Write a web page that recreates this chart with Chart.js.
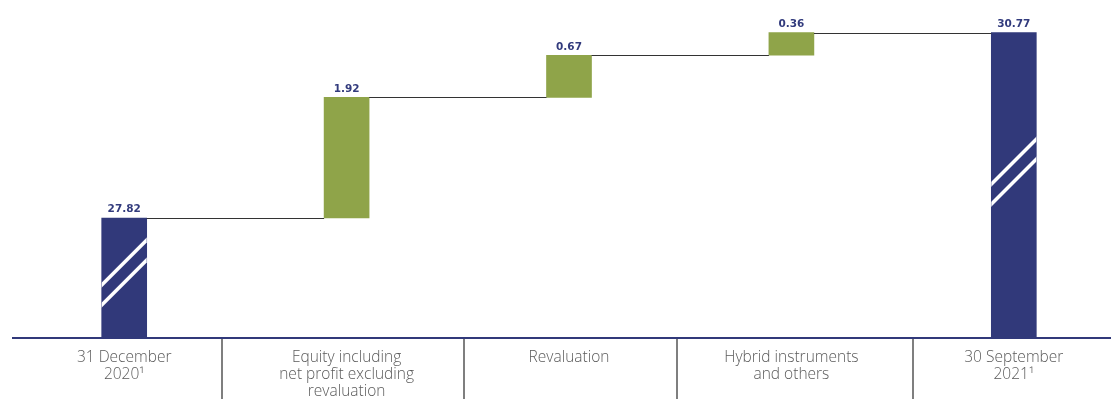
<!DOCTYPE html>
<html>
<head>
<meta charset="utf-8">
<script src="https://cdn.jsdelivr.net/npm/chart.js@4.4.1/dist/chart.umd.min.js"></script>
<style>
  html, body { margin: 0; padding: 0; background: #fff; }
  #wrap { width: 1111px; height: 399px; position: relative; }
</style>
</head>
<body>
<div id="wrap"><canvas id="wf-chart"></canvas></div>
<script>
// categories (multi-line tick labels)
var categories = [
  ['31 December', '2020\u00B9'],
  ['Equity including', 'net profit excluding', 'revaluation'],
  ['Revaluation'],
  ['Hybrid instruments', 'and others'],
  ['30 September', '2021\u00B9']
];
// values as printed above the bars
var values = [27.82, 1.92, 0.67, 0.36, 30.77];
var isTotal = [true, false, false, false, true];
var valueLabels = ['27.82', '1.92', '0.67', '0.36', '30.77'];

// truncated value axis (total bars are shown with a break mark)
var yMin = 25.91;
var yMax = 31.29;
// where the grey separator lines sit between label boxes (in x units)
var separators = [0.44, 1.527, 2.484, 3.546];

var navy = '#31397a';
var green = '#8fa449';

// build floating bars from the running total
var ranges = [];
var running = 0;
for (var i = 0; i < values.length; i++) {
  if (isTotal[i]) {
    running = values[i];
    ranges.push({ x: i, y: [yMin, values[i]] });
  } else {
    ranges.push({ x: i, y: [running, running + values[i]] });
    running = running + values[i];
  }
}

var extras = {
  id: 'extras',
  afterDatasetsDraw: function (chart) {
    var ctx = chart.ctx;
    var meta = chart.getDatasetMeta(0);
    var ys = chart.scales.y;
    var xs = chart.scales.x;
    ctx.save();
    // connectors
    ctx.strokeStyle = '#333';
    ctx.lineWidth = 1;
    for (var i = 0; i < meta.data.length - 1; i++) {
      var a = meta.data[i], b = meta.data[i + 1];
      var yy = Math.round(ys.getPixelForValue(ranges[i].y[1])) + 0.5;
      ctx.beginPath();
      ctx.moveTo(a.x + a.width / 2, yy);
      ctx.lineTo(b.x - b.width / 2, yy);
      ctx.stroke();
    }
    // break marks on total bars
    meta.data.forEach(function (bar, i) {
      if (!isTotal[i]) return;
      var left = bar.x - bar.width / 2, right = bar.x + bar.width / 2;
      var top = bar.y, bottom = bar.base;
      var yc = top + (bottom - top) * 0.455;
      ctx.save();
      ctx.beginPath();
      ctx.rect(left, top, right - left, bottom - top);
      ctx.clip();
      ctx.strokeStyle = '#fff';
      ctx.lineWidth = 3.5;
      [-10, 10].forEach(function (off) {
        ctx.beginPath();
        ctx.moveTo(left - 2, yc + off + bar.width / 2 + 2);
        ctx.lineTo(right + 2, yc + off - bar.width / 2 - 2);
        ctx.stroke();
      });
      ctx.restore();
    });
    // value labels
    ctx.fillStyle = '#323b7d';
    ctx.font = 'bold 10.5px "DejaVu Sans"';
    ctx.textAlign = 'center';
    ctx.textBaseline = 'middle';
    meta.data.forEach(function (bar, i) {
      ctx.fillText(valueLabels[i], bar.x, bar.y - 8.5);
    });
    // separators under the axis
    ctx.strokeStyle = '#555';
    ctx.lineWidth = 1.5;
    separators.forEach(function (s) {
      var px = Math.round(xs.getPixelForValue(s));
      ctx.beginPath();
      ctx.moveTo(px, chart.chartArea.bottom + 1);
      ctx.lineTo(px, chart.height);
      ctx.stroke();
    });
    ctx.restore();
  }
};

var ctx = document.getElementById('wf-chart');
var wfChart = new Chart(ctx, {
  type: 'bar',
  data: {
    datasets: [
      {
        data: ranges,
        backgroundColor: isTotal.map(function (t) { return t ? navy : green; }),
        borderWidth: 0,
        borderSkipped: false,
        barThickness: 45
      }
    ]
  },
  options: {
    responsive: true,
    maintainAspectRatio: false,
    animation: false,
    layout: { padding: { left: 13, right: 0, top: 0, bottom: 0 } },
    plugins: { legend: { display: false }, tooltip: { enabled: false } },
    scales: {
      x: {
        type: 'linear',
        offset: false,
        min: -0.5,
        max: 4.437,
        grid: { display: false, drawTicks: false },
        border: { display: true, color: navy, width: 2 },
        afterBuildTicks: function (scale) {
          scale.ticks = categories.map(function (c, i) { return { value: i }; });
        },
        afterFit: function (scale) { scale.height = 61; },
        ticks: {
          autoSkip: false,
          maxRotation: 0,
          padding: 11,
          color: '#5a5a5a',
          font: { family: '"Open Sans"', size: 15.5, weight: '300', lineHeight: 1.1 },
          callback: function (v) { return categories[v]; }
        }
      },
      y: {
        display: false,
        min: yMin,
        max: yMax
      }
    }
  },
  plugins: [extras]
});
</script>
</body>
</html>
